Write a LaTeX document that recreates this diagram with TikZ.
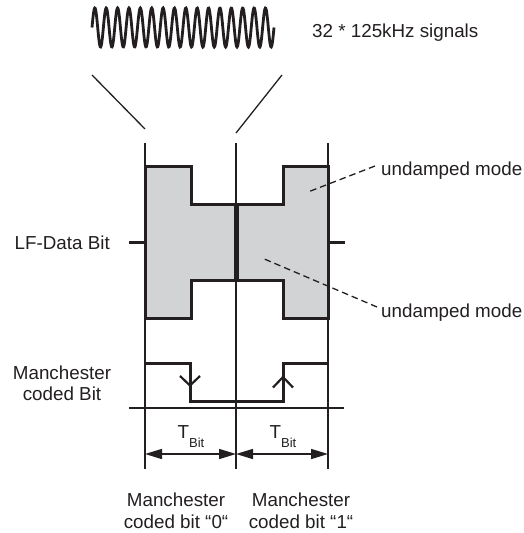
\documentclass[tikz,border=0pt]{standalone}
\usepackage{fontspec}
\setmainfont{Liberation Sans}
\usetikzlibrary{arrows.meta}
\definecolor{shade}{RGB}{210,211,213}
\definecolor{ink}{RGB}{35,31,32}
\begin{document}
\begin{tikzpicture}[x=1pt,y=-1pt,
  lbl/.style={font=\fontsize{18.8}{21}\selectfont, text=ink, inner sep=0pt},
  thinline/.style={line width=1.3pt, draw=ink},
  thickline/.style={line width=3pt, draw=ink, line join=miter},
  dashline/.style={line width=1.3pt, draw=ink, dash pattern=on 6.5pt off 4pt},
  dimarrow/.style={line width=1.5pt, draw=ink, {Triangle[length=17pt,width=10pt]}-{Triangle[length=17pt,width=10pt]}},
  barb/.style={line width=2.2pt, draw=ink}]
\useasboundingbox (0,0) rectangle (523,533);

% signal burst
\draw[line width=2.8pt, ink] plot[domain=0:16, samples=400, smooth] ({92+11.375*\x}, {27.5-19.5*sin(360*\x)});
\node[lbl, anchor=base west] (sig) at (312,37.5) {32 * 125kHz signals};

% zoom lines
\coordinate (zl1) at (92,75);  \coordinate (zl2) at (145,129);
\coordinate (zr1) at (282,75); \coordinate (zr2) at (236,133);
\draw[thinline] (zl1) -- (zl2);
\draw[thinline] (zr1) -- (zr2);

% bit boundary lines
\coordinate (a1) at (145,143); \coordinate (a2) at (145,469);
\coordinate (b1) at (236,143); \coordinate (b2) at (236,469);
\coordinate (c1) at (328,143); \coordinate (c2) at (328,469);
\draw[thinline] (a1) -- (a2);
\draw[thinline] (b1) -- (b2);
\draw[thinline] (c1) -- (c2);

% LF data bit shape
\draw[thickline, fill=shade] (145,166) -- (191,166) -- (191,204) -- (283,204) -- (283,166) -- (328,166)
  -- (328,318) -- (283,318) -- (283,280) -- (191,280) -- (191,318) -- (145,318) -- cycle;
\draw[line width=5pt, ink] (236,204) -- (236,280);
\draw[thickline] (129,242) -- (145,242);
\draw[thickline] (328,242) -- (345,242);
\node[lbl, anchor=base east] (lf) at (110,249.5) {LF-Data Bit};

% undamped mode labels
\node[lbl, anchor=base west] (um1) at (381,175) {undamped mode};
\node[lbl, anchor=base west] (um2) at (381,317) {undamped mode};
\coordinate (d1a) at (375,166); \coordinate (d1b) at (308,192);
\coordinate (d2a) at (377,307); \coordinate (d2b) at (262,258);
\draw[dashline] (d1a) -- (d1b);
\draw[dashline] (d2a) -- (d2b);

% Manchester coded bit
\draw[thickline] (145,363) -- (190,363) -- (190,401) -- (283,401) -- (283,363) -- (329,363);
\draw[barb, line join=miter] (180,376) -- (190,385.5) -- (200,376);
\draw[barb, line join=miter] (273,387.5) -- (283,377) -- (293,387.5);
\node[lbl, align=center] (mcb) at (62,383) {Manchester\\coded Bit};
\draw[thinline] (129,408) -- (344,408);

% bit periods
\node[lbl, anchor=base] (t0) at (191,438) {T\raisebox{-9.5pt}{\fontsize{13}{13}\selectfont Bit}};
\node[lbl, anchor=base] (t1) at (283,438) {T\raisebox{-9.5pt}{\fontsize{13}{13}\selectfont Bit}};
\coordinate (p0) at (145,454); \coordinate (p1) at (236,454); \coordinate (p2) at (328,454);
\draw[dimarrow] (p0) -- (p1);
\draw[dimarrow] (p1) -- (p2);

\node[lbl, align=center, font=\fontsize{18.8}{21.5}\selectfont] (m0) at (176,511) {Manchester\\coded bit “0“};
\node[lbl, align=center, font=\fontsize{18.8}{21.5}\selectfont] (m1) at (301,511) {Manchester\\coded bit “1“};
\end{tikzpicture}
\end{document}
